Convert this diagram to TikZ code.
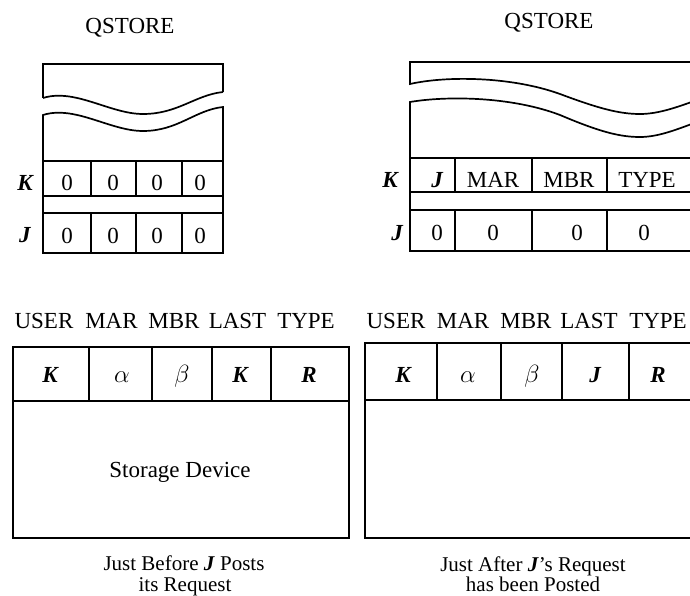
\documentclass[tikz,border=0pt]{standalone}
\usepackage{fontspec}
\setmainfont{Liberation Serif}
\begin{document}
\begin{tikzpicture}[x=1pt,y=-1pt,line width=1.7pt,
  txt/.style={anchor=base,inner sep=0pt,font=\fontsize{23}{27}\selectfont},
  captext/.style={anchor=base,inner sep=0pt,font=\fontsize{21}{20}\selectfont},
  var/.style={txt,font=\fontsize{23}{27}\selectfont\bfseries\itshape}]
\useasboundingbox (0,0) rectangle (690,596);
\clip (0,0) rectangle (690,596);

% ---------- left QSTORE ----------
\node[txt] (qsL) at (130,34) {QSTORE};
\draw (43,98) -- (43,64) -- (223,64) -- (223,92);
\draw (43,98) .. controls (75,88) and (110,114) .. (143,114)
              .. controls (178,114) and (195,95) .. (223,92);
\draw (43,115) .. controls (75,105) and (110,131) .. (143,131)
               .. controls (178,131) and (195,110) .. (223,107)
      -- (223,253) -- (43,253) -- cycle;
\draw (43,161) -- (223,161) (43,196) -- (223,196) (43,213) -- (223,213);
\foreach \x in {91,136,182} {
  \draw (\x,161) -- (\x,196) (\x,213) -- (\x,253);
}
\node[var] (kL) at (25,190) {K};
\node[var] (jL) at (25,242) {J};
\foreach \x [count=\i] in {67,113,157,200} {
  \node[txt] (zk\i) at (\x,190) {0};
  \node[txt] (zj\i) at (\x,243) {0};
}

% ---------- right QSTORE ----------
\node[txt] (qsR) at (549,29) {QSTORE};
\draw (700,62) -- (410,62) -- (410,84)
      .. controls (445,76) and (510,76) .. (560,94)
      .. controls (600,109) and (620,114) .. (640,114)
      .. controls (660,114) and (680,106) .. (700,99);
\draw (700,121) .. controls (680,128) and (660,137) .. (640,137)
      .. controls (620,137) and (600,132) .. (560,115)
      .. controls (510,96) and (445,96) .. (410,102)
      -- (410,251) -- (700,251);
\draw (410,158) -- (700,158) (410,192) -- (700,192) (410,210) -- (700,210);
\foreach \x in {455,532,607} {
  \draw (\x,158) -- (\x,192) (\x,210) -- (\x,251);
}
\node[var] (kR) at (390,187) {K};
\node[var] (jR) at (397,240) {J};
\node[var] (cJ) at (437,187) {J};
\node[txt] (cMAR) at (493,187) {MAR};
\node[txt] (cMBR) at (569,187) {MBR};
\node[txt] (cTYPE) at (647,187) {TYPE};
\foreach \x [count=\i] in {437,493,577,644} {
  \node[txt] (rz\i) at (\x,240) {0};
}

% ---------- left storage device ----------
\foreach \w/\x [count=\i] in {USER/44,MAR/111.5,MBR/174,LAST/237.5,TYPE/306} {
  \node[txt] (hL\i) at (\x,328) {\w};
}
\draw (13,347) rectangle (349,538);
\draw (13,401) -- (349,401);
\foreach \x in {89,152,212,271} {
  \draw (\x,347) -- (\x,401);
}
\node[var] (uL) at (50,382) {K};
\node[txt] (aL) at (122,382) {$\alpha$};
\node[txt] (bL) at (182,382) {$\beta$};
\node[var] (lL) at (240,382) {K};
\node[var] (tL) at (309,382) {R};
\node[txt] (dev) at (180,477) {Storage Device};
\node[captext] (capL1) at (184,570) {Just Before \textbf{\textit{J}} Posts};
\node[captext] (capL2) at (185,591) {its Request};

% ---------- right storage device ----------
\foreach \w/\x [count=\i] in {USER/396,MAR/463,MBR/526,LAST/589,TYPE/658} {
  \node[txt] (hR\i) at (\x,328) {\w};
}
\draw (700,343) -- (365,343) -- (365,538) -- (700,538);
\draw (365,400) -- (700,400);
\foreach \x in {437,501,562,629} {
  \draw (\x,343) -- (\x,400);
}
\node[var] (uR) at (403,382) {K};
\node[txt] (aR) at (468,382) {$\alpha$};
\node[txt] (bR) at (532,382) {$\beta$};
\node[var] (lR) at (595,382) {J};
\node[var] (tR) at (658,382) {R};
\node[captext] (capR1) at (533,571) {Just After \textbf{\textit{J}}’s Request};
\node[captext] (capR2) at (533,591) {has been Posted};
\end{tikzpicture}
\end{document}
